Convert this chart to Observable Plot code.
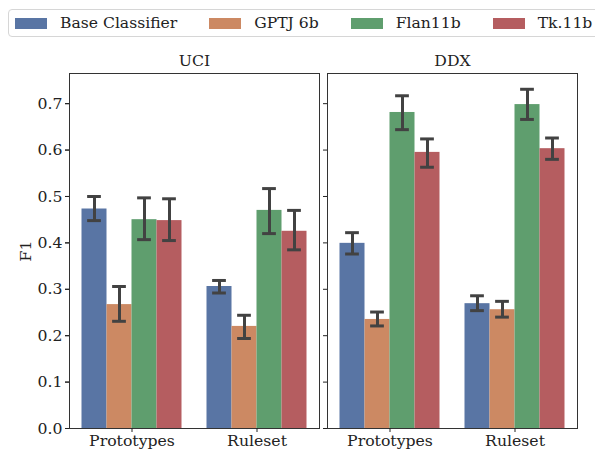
<!DOCTYPE html>
<html><head><meta charset="utf-8">
<script src="https://cdn.jsdelivr.net/npm/d3@7"></script>
<script src="https://cdn.jsdelivr.net/npm/@observablehq/plot@0.6"></script>
<style>
body{margin:0;background:#fff;font-family:"DejaVu Serif",serif;width:595px;height:450px;overflow:hidden}
#top{position:relative;height:42px}
#legend{position:absolute;left:8px;top:9px;height:28px;width:640px;border:1px solid #d6d6d6;border-radius:4px;display:flex;align-items:center;gap:32px;padding-left:6px;box-sizing:border-box;font-size:15.6px;color:#222}
.item{display:flex;align-items:center;gap:13px;white-space:nowrap}
.sw{width:32px;height:11px;display:inline-block}
svg{display:block}
</style></head>
<body>
<div id="top"><div id="legend"></div></div>
<div id="chart"></div>
<script>
const datasets = ["UCI", "DDX"];
const categories = ["Prototypes", "Ruleset"];
const models = ["Base Classifier", "GPTJ 6b", "Flan11b", "Tk.11b"];
const colors = ["#5975a4", "#cc8963", "#5f9e6e", "#b55d60"];
const yTicks = [0, 0.1, 0.2, 0.3, 0.4, 0.5, 0.6, 0.7];

// values per model (Base, GPTJ, Flan, Tk)
const uciProtoMean = [0.473, 0.267, 0.450, 0.448];
const uciProtoLow  = [0.448, 0.231, 0.407, 0.405];
const uciProtoHigh = [0.500, 0.306, 0.497, 0.495];
const uciRuleMean  = [0.306, 0.220, 0.470, 0.425];
const uciRuleLow   = [0.292, 0.194, 0.420, 0.385];
const uciRuleHigh  = [0.319, 0.244, 0.517, 0.470];
const ddxProtoMean = [0.399, 0.235, 0.681, 0.595];
const ddxProtoLow  = [0.376, 0.221, 0.644, 0.563];
const ddxProtoHigh = [0.422, 0.251, 0.717, 0.624];
const ddxRuleMean  = [0.269, 0.256, 0.698, 0.603];
const ddxRuleLow   = [0.254, 0.240, 0.666, 0.580];
const ddxRuleHigh  = [0.286, 0.274, 0.731, 0.626];

const groups = [
  ["UCI", "Prototypes", uciProtoMean, uciProtoLow, uciProtoHigh],
  ["UCI", "Ruleset", uciRuleMean, uciRuleLow, uciRuleHigh],
  ["DDX", "Prototypes", ddxProtoMean, ddxProtoLow, ddxProtoHigh],
  ["DDX", "Ruleset", ddxRuleMean, ddxRuleLow, ddxRuleHigh]
];
const barW = 0.8 / models.length;
const capHalf = 0.055;
const rows = [];
for (const [dataset, category, mean, low, high] of groups) {
  const ci = categories.indexOf(category);
  models.forEach((model, m) => {
    const xc = ci + (m - (models.length - 1) / 2) * barW;
    rows.push({dataset, category, model, mean: mean[m], low: low[m], high: high[m],
      xc, x1: xc - barW / 2, x2: xc + barW / 2, c1: xc - capHalf, c2: xc + capHalf});
  });
}

// legend
const leg = document.getElementById("legend");
models.forEach((m, i) => {
  const it = document.createElement("div");
  it.className = "item";
  it.innerHTML = `<span class="sw" style="background:${colors[i]}"></span><span>${m}</span>`;
  leg.appendChild(it);
});

const chart = Plot.plot({
  width: 595,
  height: 408,
  marginLeft: 69,
  marginRight: 17,
  marginTop: 31,
  marginBottom: 22,
  style: {fontFamily: "DejaVu Serif", fontSize: "15.7px", color: "#222", background: "#fff"},
  fx: {domain: datasets, paddingInner: 0.031, paddingOuter: 0, label: null},
  x: {domain: [-0.5, 1.5]},
  y: {domain: [0, 0.765]},
  color: {domain: models, range: colors},
  marks: [
    Plot.rectY(rows, {fx: "dataset", x1: "x1", x2: "x2", y: "mean", fill: "model"}),
    Plot.ruleX(rows, {fx: "dataset", x: "xc", y1: "low", y2: "high", stroke: "#424242", strokeWidth: 3}),
    Plot.ruleY(rows, {fx: "dataset", y: "low", x1: "c1", x2: "c2", stroke: "#424242", strokeWidth: 3}),
    Plot.ruleY(rows, {fx: "dataset", y: "high", x1: "c1", x2: "c2", stroke: "#424242", strokeWidth: 3}),
    Plot.frame({stroke: "#333", strokeWidth: 1}),
    Plot.axisY({ticks: yTicks, tickFormat: ".1f", tickSize: 4, tickPadding: 3, label: "F1", labelAnchor: "center", labelArrow: "none", labelOffset: 50}),
    Plot.axisY({ticks: yTicks, tickFormat: () => "", tickSize: 4, label: null, facetAnchor: null}),
    Plot.axisX({ticks: [0, 1], tickFormat: i => categories[i], tickSize: 4, tickPadding: 2, label: null}),
    Plot.axisFx({anchor: "top", tickSize: 0, tickPadding: 8, label: null})
  ]
});
document.getElementById("chart").appendChild(chart);
</script>
</body></html>
